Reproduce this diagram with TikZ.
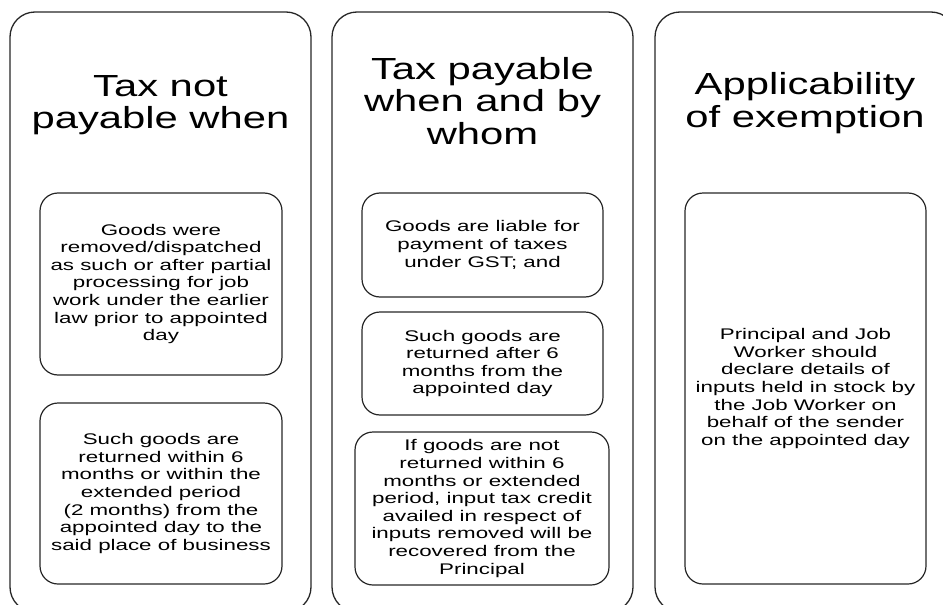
\documentclass[tikz,border=0pt]{standalone}
\usepackage{fontspec}
\setmainfont{Liberation Sans}[FakeStretch=1.45]
\newfontfamily\titlefont{Liberation Sans}[FakeStretch=1.37]
\begin{document}
\begin{tikzpicture}[x=1pt,y=-1pt]
\tikzset{
  outerbox/.style={draw=black!85, line width=1.3pt, rounded corners=25pt,
    minimum width=301pt, minimum height=600pt, inner sep=0pt},
  innerbox/.style={draw=black!85, line width=1.2pt, rounded corners=18pt,
    inner sep=0pt, align=center, font=\fontsize{15.4}{17.6}\selectfont},
  titletext/.style={align=center, inner sep=0pt,
    font=\titlefont\fontsize{30.5}{32.5}\selectfont}
}
\useasboundingbox (0,0) rectangle (943,605);
% outer columns
\node[outerbox] (L) at (160.5,312) {};
\node[outerbox] (M) at (482.5,312) {};
\node[outerbox] (R) at (805.5,312) {};
% titles
\node[titletext] (LT) at (160.5,105) {Tax not\\payable when};
\node[titletext] (MT) at (482.5,101) {Tax payable\\when and by\\whom};
\node[titletext] (RT) at (805,103) {Applicability\\of exemption};
% inner boxes
\node[innerbox, minimum width=242pt, minimum height=182pt] (L1) at (161,284)
  {Goods were\\removed/dispatched\\as such or after partial\\processing for job\\work under the earlier\\law prior to appointed\\day};
\node[innerbox, minimum width=242pt, minimum height=181pt] (L2) at (161,493.5)
  {Such goods are\\returned within 6\\months or within the\\extended period\\(2 months) from the\\appointed day to the\\said place of business};
\node[innerbox, minimum width=241pt, minimum height=104pt] (M1) at (482.5,245)
  {Goods are liable for\\payment of taxes\\under GST; and};
\node[innerbox, minimum width=241pt, minimum height=103pt] (M2) at (482.5,363.5)
  {Such goods are\\returned after 6\\months from the\\appointed day};
\node[innerbox, minimum width=254pt, minimum height=153pt] (M3) at (482,508.5)
  {If goods are not\\returned within 6\\months or extended\\period, input tax credit\\availed in respect of\\inputs removed will be\\recovered from the\\Principal};
\node[innerbox, minimum width=241pt, minimum height=391pt] (R1) at (805.5,388.5)
  {Principal and Job\\Worker should\\declare details of\\inputs held in stock by\\the Job Worker on\\behalf of the sender\\on the appointed day};
\end{tikzpicture}
\end{document}
